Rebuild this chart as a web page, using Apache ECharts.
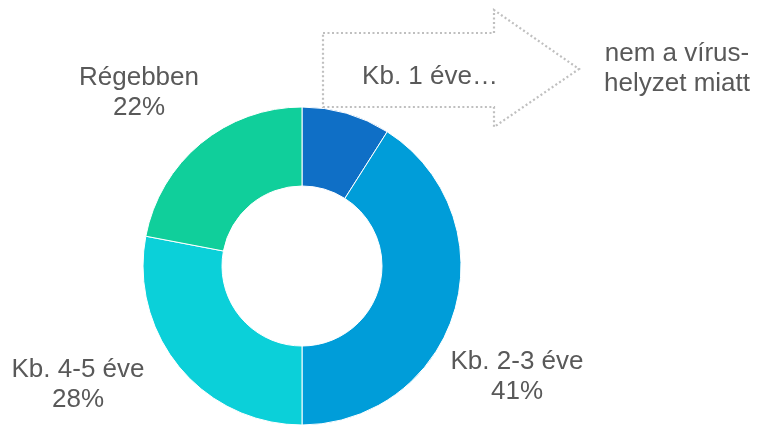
<!DOCTYPE html>
<html>
<head>
<meta charset="utf-8">
<script src="https://cdn.jsdelivr.net/npm/echarts@6/dist/echarts.min.js"></script>
<style>
  html, body { margin: 0; padding: 0; background: #ffffff; }
  #chart { width: 759px; height: 425px; }
</style>
</head>
<body>
<div id="chart"></div>
<script>
// Share of answers by time period (percent)
const categories = ['Kb. 1 éve', 'Kb. 2-3 éve', 'Kb. 4-5 éve', 'Régebben'];
const shares = [9, 41, 28, 22];
const sliceColors = ['#0F6FC6', '#009DD9', '#0BD0D9', '#10CF9B'];

// Label anchor points (centre of each two-line label block)
const labelCenters = [null, [517, 377], [78, 385], [139, 93]];

const FONT = '"Liberation Sans", Arial, sans-serif';
const TEXT_COLOR = '#595959';

const chart = echarts.init(document.getElementById('chart'), null, { renderer: 'canvas' });

chart.setOption({
  animation: false,
  series: [{
    type: 'pie',
    center: [302, 266],
    radius: [80, 159],
    startAngle: 90,
    clockwise: true,
    avoidLabelOverlap: false,
    itemStyle: { borderColor: '#ffffff', borderWidth: 1 },
    label: {
      show: true,
      position: 'outside',
      formatter: p => p.name + '\n' + p.value + '%',
      fontFamily: FONT,
      fontSize: 26,
      lineHeight: 30,
      color: TEXT_COLOR,
      align: 'center'
    },
    labelLine: { show: false },
    labelLayout: params => {
      const c = labelCenters[params.dataIndex];
      if (!c) return {};
      return { x: c[0], y: c[1], align: 'center', verticalAlign: 'middle' };
    },
    emphasis: { disabled: true },
    data: categories.map((name, i) => ({
      name: name,
      value: shares[i],
      itemStyle: { color: sliceColors[i] },
      label: { show: i !== 0 }
    }))
  }],
  graphic: [
    {
      type: 'polygon',
      z: 10,
      shape: {
        points: [[323, 33], [494, 33], [494, 10], [579, 69], [494, 127], [494, 107], [323, 107]]
      },
      style: {
        fill: 'rgba(255,255,255,0)',
        stroke: '#BFBFBF',
        lineWidth: 2.2,
        lineDash: [2, 2.5]
      }
    },
    {
      type: 'text',
      z: 11,
      x: 430,
      y: 77,
      style: {
        text: categories[0] + '…',
        font: '26px ' + FONT,
        fill: TEXT_COLOR,
        align: 'center',
        verticalAlign: 'middle'
      }
    },
    {
      type: 'text',
      z: 11,
      x: 677,
      y: 69,
      style: {
        text: 'nem a vírus-\nhelyzet miatt',
        font: '26px ' + FONT,
        lineHeight: 30,
        fill: TEXT_COLOR,
        align: 'center',
        verticalAlign: 'middle'
      }
    }
  ]
});
</script>
</body>
</html>
